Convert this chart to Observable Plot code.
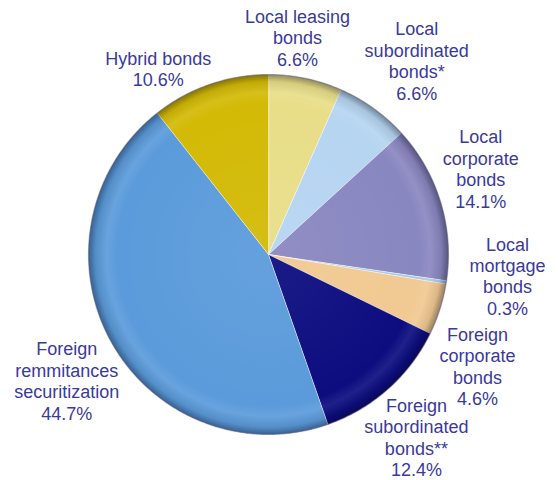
<!DOCTYPE html>
<html>
<head>
<meta charset="utf-8">
<script src="https://cdn.jsdelivr.net/npm/d3@7"></script>
<script src="https://cdn.jsdelivr.net/npm/@observablehq/plot@0.6"></script>
<style>
  html, body { margin: 0; padding: 0; background: #ffffff; }
  #chart svg { display: block; }
</style>
</head>
<body>
<div id="chart"></div>
<script>
// ---- data ----
const categories = [
  "Local leasing bonds",
  "Local subordinated bonds*",
  "Local corporate bonds",
  "Local mortgage bonds",
  "Foreign corporate bonds",
  "Foreign subordinated bonds**",
  "Foreign remmitances securitization",
  "Hybrid bonds"
];
const labelLines = [
  "Local leasing\nbonds",
  "Local\nsubordinated\nbonds*",
  "Local\ncorporate\nbonds",
  "Local\nmortgage\nbonds",
  "Foreign\ncorporate\nbonds",
  "Foreign\nsubordinated\nbonds**",
  "Foreign\nremmitances\nsecuritization",
  "Hybrid bonds"
];
const values = [6.6, 6.6, 14.1, 0.3, 4.6, 12.4, 44.7, 10.6];

// ---- styles / layout ----
const colors = ["#E8DE88", "#B6D5F1", "#8987C0", "#A9CBEA", "#F1C992", "#0D0D80", "#5B9BDB", "#D3BA06"];
const labelColor = "#3A3A9C";
const labelAngleShift = [-4.3, 1.7, -5.0, -3.8, 10.4, 2.6, -3.3, -11.6]; // degrees
const labelRadius = [1.217, 1.356, 1.272, 1.333, 1.317, 1.305, 1.322, 1.2];

const table = categories.map((c, i) => ({category: c, label: labelLines[i], value: values[i], color: colors[i]}));
const arcs = d3.pie().sort(null).value(d => d.value)(table);

const pt = (a, r) => [r * Math.sin(a), -r * Math.cos(a)];
const slices = arcs.map((a, i) => {
  const n = Math.max(2, Math.ceil((a.endAngle - a.startAngle) / 0.01));
  const ring = [[0, 0]];
  for (let k = 0; k <= n; ++k) ring.push(pt(a.startAngle + (a.endAngle - a.startAngle) * k / n, 1));
  ring.push([0, 0]);
  return {type: "Feature", properties: {color: a.data.color, category: a.data.category}, geometry: {type: "Polygon", coordinates: [ring]}};
});
const circle = {type: "Polygon", coordinates: [d3.range(0, 361).map(d => pt(d * Math.PI / 180, 1))]};

const labelData = arcs.map((a, i) => {
  const mid = (a.startAngle + a.endAngle) / 2 + labelAngleShift[i] * Math.PI / 180;
  const [x, y] = pt(mid, labelRadius[i]);
  const pct = (a.data.value).toFixed(1) + "%";
  return {x, y, text: a.data.label + "\n" + pct};
});

const chart = Plot.plot({
  width: 558,
  height: 480,
  marginLeft: 88,
  marginRight: 110,
  marginTop: 74,
  marginBottom: 46,
  projection: {type: "identity", clip: false, domain: {type: "MultiPoint", coordinates: [[-1, -1], [1, 1]]}},
  style: {background: "#ffffff", fontFamily: "Arial, 'Liberation Sans', sans-serif", overflow: "visible"},
  marks: [
    Plot.geo(slices, {fill: d => d.properties.color, stroke: "#ffffff", strokeOpacity: 0.45, strokeWidth: 1}),
    Plot.geo([circle], {fill: "url(#rimShade)", stroke: "#33334a", strokeOpacity: 0.35, strokeWidth: 1.2}),
    Plot.text(labelData, {x: "x", y: "y", text: "text", fill: labelColor, fontSize: 18, lineHeight: 1.19, textAnchor: "middle", clip: false})
  ]
});

d3.select(chart).insert("defs", ":first-child").html(`
  <radialGradient id="rimShade" cx="50%" cy="50%" r="50%">
    <stop offset="0%" stop-color="#ffffff" stop-opacity="0.06"/>
    <stop offset="84%" stop-color="#ffffff" stop-opacity="0"/>
    <stop offset="90%" stop-color="#ffffff" stop-opacity="0.08"/>
    <stop offset="96%" stop-color="#000000" stop-opacity="0.08"/>
    <stop offset="100%" stop-color="#000020" stop-opacity="0.38"/>
  </radialGradient>`);

document.getElementById("chart").appendChild(chart);
</script>
</body>
</html>
